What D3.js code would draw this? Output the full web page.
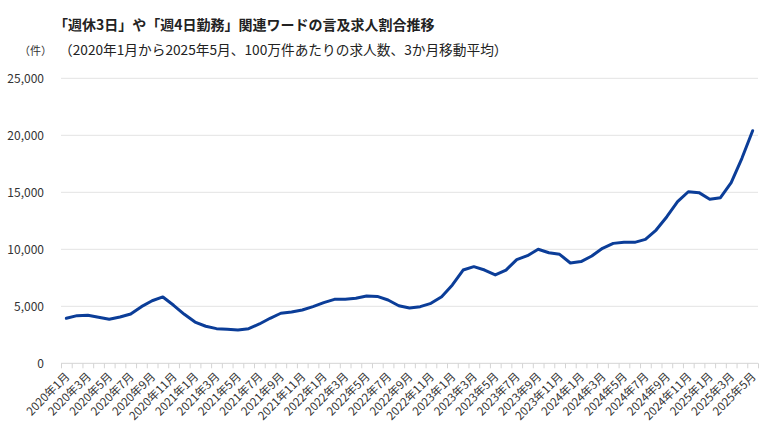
<!DOCTYPE html>
<html>
<head>
<meta charset="utf-8">
<script src="https://cdn.jsdelivr.net/npm/d3@7"></script>
<style>
  body { margin: 0; background: #fff; }
  svg { font-family: "Noto Sans CJK JP", "Noto Sans", sans-serif; }
</style>
</head>
<body>
<div id="chart"></div>
<script>
// months 2020年1月 .. 2025年5月
const months = [];
for (let yr = 2020; yr <= 2025; yr++) {
    for (let m = 1; m <= 12; m++) {
        if (yr === 2025 && m > 5) break;
        months.push(`${yr}年${m}月`);
    }
}

// 100万件あたりの求人数 (3か月移動平均)
const values = [
    3950, 4180, 4210, 4040, 3860, 4060, 4320, 4970, 5490, 5820, 5090, 4300,
    3620, 3250, 3040, 2980, 2930, 3040, 3450, 3950, 4390, 4500, 4680, 4970,
    5320, 5610, 5610, 5700, 5900, 5870, 5550, 5050, 4850, 4970, 5260, 5840,
    6870, 8180, 8480, 8180, 7750, 8180, 9090, 9440, 10000, 9700, 9560, 8800,
    8920, 9410, 10090, 10520, 10610, 10610, 10870, 11690, 12860, 14180, 15050, 14970,
    14390, 14530, 15840, 17980, 20400
];

const yTicks = [0, 5000, 10000, 15000, 20000, 25000];

const title = "「週休3日」や「週4日勤務」関連ワードの言及求人割合推移";
const subtitle = "（2020年1月から2025年5月、100万件あたりの求人数、3か月移動平均）";
const unitLabel = "（件）";

const fullWidth = 780;
const fullHeight = 444;
const plot = { left: 61, right: 758, top: 78.3, bottom: 363.3 };

const svg = d3.select("#chart").append("svg")
    .attr("width", fullWidth)
    .attr("height", fullHeight);

const x = d3.scaleBand().domain(months).range([plot.left, plot.right]).padding(0);
const y = d3.scaleLinear().domain([0, 25000]).range([plot.bottom, plot.top]);

// titles
svg.append("text")
    .attr("x", 54)
    .attr("y", 30)
    .style("font-size", "14px")
    .style("font-weight", "bold")
    .style("fill", "#222")
    .text(title);

svg.append("text")
    .attr("x", 59)
    .attr("y", 55)
    .style("font-size", "13.7px")
    .style("fill", "#222")
    .text(subtitle);

svg.append("text")
    .attr("x", 19)
    .attr("y", 55)
    .style("font-size", "11px")
    .style("fill", "#333")
    .text(unitLabel);

// gridlines
svg.append("g")
    .selectAll("line")
    .data(yTicks)
    .join("line")
    .attr("x1", plot.left)
    .attr("x2", plot.right)
    .attr("y1", d => y(d))
    .attr("y2", d => y(d))
    .style("stroke", d => d === 0 ? "#d4d4d4" : "#e3e3e3")
    .style("stroke-width", 1);

// y axis labels
const yAxis = d3.axisLeft(y)
    .tickValues(yTicks)
    .tickFormat(d3.format(","))
    .tickSize(0)
    .tickPadding(0);

const gY = svg.append("g")
    .attr("transform", "translate(44,0)")
    .call(yAxis);
gY.select(".domain").remove();
gY.selectAll("text")
    .style("font-family", "\"Noto Sans CJK JP\", sans-serif")
    .style("font-size", "12px")
    .style("fill", "#333")
    .attr("dy", "0.35em");

// month boundary ticks
const boundaries = months.map(d => x(d)).concat([plot.right]);
svg.append("g")
    .selectAll("line")
    .data(boundaries)
    .join("line")
    .attr("x1", d => d + 0.5)
    .attr("x2", d => d + 0.5)
    .attr("y1", plot.bottom)
    .attr("y2", plot.bottom + 5)
    .style("stroke", "#d4d4d4")
    .style("stroke-width", 1);

// x axis labels (every other month)
const xAxis = d3.axisBottom(x)
    .tickValues(months.filter((d, i) => i % 2 === 0))
    .tickSize(0)
    .tickPadding(0);

const gX = svg.append("g")
    .attr("transform", `translate(0, ${plot.bottom})`)
    .call(xAxis);
gX.select(".domain").remove();
gX.selectAll("text")
    .style("font-family", "\"Noto Sans CJK JP\", sans-serif")
    .style("font-size", "11.5px")
    .style("fill", "#333")
    .attr("text-anchor", "end")
    .attr("dy", "0")
    .attr("y", 0)
    .attr("transform", "translate(4, 14) rotate(-45)");

// line
const line = d3.line()
    .x((d, i) => x(months[i]) + x.bandwidth() / 2)
    .y(d => y(d));

svg.append("path")
    .datum(values)
    .attr("d", line)
    .style("fill", "none")
    .style("stroke", "#0b3d98")
    .style("stroke-width", 3)
    .style("stroke-linejoin", "round")
    .style("stroke-linecap", "round");
</script>
</body>
</html>
